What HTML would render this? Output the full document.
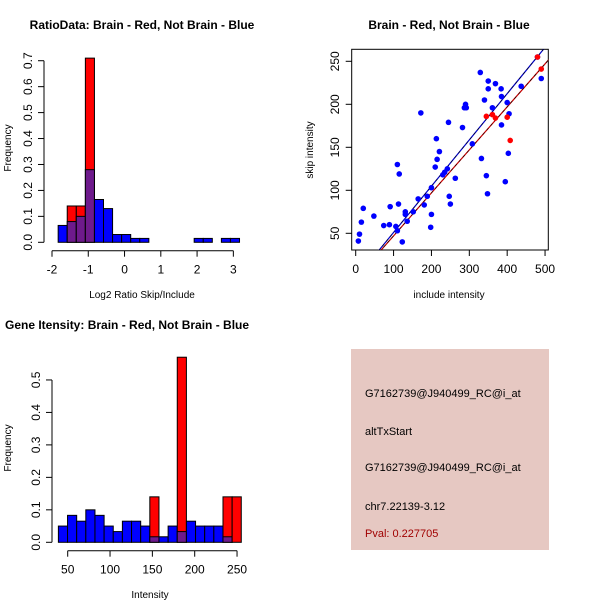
<!DOCTYPE html>
<html><head><meta charset="utf-8"><style>
html,body{margin:0;padding:0;background:#fff;}
svg{display:block;font-family:"Liberation Sans",sans-serif;}
</style></head><body>
<svg id="chart" width="600" height="600" viewBox="0 0 600 600" xmlns="http://www.w3.org/2000/svg">
<rect width="600" height="600" fill="#fff"/>
<g id="p1"></g>
<g id="p2"></g>
<g id="p3"></g>
<g>
<rect x="351" y="349" width="198" height="201" fill="#e6c8c2"/>
<text x="365" y="397" font-size="11">G7162739@J940499_RC@i_at</text>
<text x="365" y="435" font-size="11">altTxStart</text>
<text x="365" y="471" font-size="11">G7162739@J940499_RC@i_at</text>
<text x="365" y="510" font-size="11">chr7.22139-3.12</text>
<text x="365" y="537" font-size="11" fill="#a00000">Pval: 0.227705</text>
</g>
</svg>
<script>
// Panel 1 data
const ratioBinStart = -1.83;
const ratioBinWidth = 0.25;
const ratioBlue = [0.065,0.08,0.1,0.28,0.165,0.13,0.03,0.03,0.015,0.015,0,0,0,0,0,0.015,0.015,0,0.015,0.015];
const ratioRed  = [0,0.14,0.14,0.71,0,0,0,0,0,0,0,0,0,0,0,0,0,0,0,0];
const ratioXTicks = [-2,-1,0,1,2,3];
const ratioYTicks = [0,0.1,0.2,0.3,0.4,0.5,0.6,0.7];
// Panel 2 data
const blueX = [7,10,15,20,48,74,89,91,106,110,113,110,115,123,131,131,136,152,165,172,181,189,198,200,200,210,213,215,221,230,235,242,245,247,250,263,282,290,287,292,308,329,332,340,345,348,350,350,361,369,384,385,385,395,400,403,405,437,490,480];
const blueY = [41,49,63,79,70,59,60,81,58,53,84,130,119,40,75,72,64,75,90,190,83,93,57,72,103,127,160,136,145,118,121,125,179,93,84,114,173,200,196,196,154,237,137,205,117,96,227,218,196,224,218,209,176,110,202,143,189,221,230,255];
const redX = [345,361,369,400,408,480,490];
const redY = [186,188,184,185,158,255,241];
const blueFit = [-2.8,0.538];
const redFit = [-3,0.5];
const scatXTicks = [0,100,200,300,400,500];
const scatYTicks = [50,100,150,200,250];
// Panel 3 data
const intBinStart = 39;
const intBinWidth = 10.8;
const intBlue = [0.05,0.083,0.065,0.1,0.083,0.05,0.033,0.065,0.065,0.05,0.017,0.017,0.05,0.033,0.065,0.05,0.05,0.05,0.017,0];
const intRed  = [0,0,0,0,0,0,0,0,0,0,0.14,0,0,0.57,0,0,0,0,0.14,0.14];
const intXTicks = [50,100,150,200,250];
const intYTicks = [0,0.1,0.2,0.3,0.4,0.5];

const NS="http://www.w3.org/2000/svg";
function mk(parent,tag,attrs,txt){const e=document.createElementNS(NS,tag);for(const k in attrs)e.setAttribute(k,attrs[k]);if(txt!==undefined)e.textContent=txt;parent.appendChild(e);return e;}

function hist(g,o){
  const sx=v=>o.x0px+(v-o.x0v)*o.xs, sy=v=>o.y0px-v*o.ys;
  for(let i=0;i<o.blue.length;i++){
    const a=o.start+i*o.w,b=a+o.w,hb=o.blue[i],hr=o.red[i];
    if(hr>0){const r=mk(g,'rect',{x:sx(a),y:sy(hr),width:sx(b)-sx(a),height:sy(0)-sy(hr),fill:'#ff0000',stroke:'#000','stroke-width':1});
      
      }
    if(hb>0){const fill=hr>0?'#6e1a8c':'#0000ff';const r=mk(g,'rect',{x:sx(a),y:sy(hb),width:sx(b)-sx(a),height:sy(0)-sy(hb),fill:fill,stroke:'#000','stroke-width':1});
      
      }
  }
  const ax=o.axisY;
  mk(g,'line',{x1:sx(o.xt[0]),x2:sx(o.xt[o.xt.length-1]),y1:ax,y2:ax,stroke:'#000'});
  o.xt.forEach(t=>{mk(g,'line',{x1:sx(t),x2:sx(t),y1:ax,y2:ax+6,stroke:'#000'});
    const l=mk(g,'text',{x:sx(t),y:ax+23,'font-size':12,'text-anchor':'middle'},String(t));
    
    });
  const yx=o.axisX;
  mk(g,'line',{x1:yx,x2:yx,y1:sy(o.yt[0]),y2:sy(o.yt[o.yt.length-1]),stroke:'#000'});
  o.yt.forEach(t=>{mk(g,'line',{x1:yx-6,x2:yx,y1:sy(t),y2:sy(t),stroke:'#000'});
    const l=mk(g,'text',{x:yx-12,y:sy(t),'font-size':12,'text-anchor':'middle',transform:`rotate(-90 ${yx-12} ${sy(t)})`},t.toFixed(1));
    
    });
}

// Panel 1
const g1=document.getElementById('p1');
hist(g1,{x0px:52,x0v:-2,xs:36.27,y0px:242.3,ys:259.4,start:ratioBinStart,w:ratioBinWidth,blue:ratioBlue,red:ratioRed,xt:ratioXTicks,yt:ratioYTicks,axisY:250.7,axisX:44});
let t=mk(g1,'text',{x:142,y:29,'font-size':12,'font-weight':'bold','text-anchor':'middle'},'RatioData: Brain - Red, Not Brain - Blue');

t=mk(g1,'text',{x:142,y:298,'font-size':10,'text-anchor':'middle'},'Log2 Ratio Skip/Include');

t=mk(g1,'text',{x:11,y:148,'font-size':10,'text-anchor':'middle',transform:'rotate(-90 11 148)'},'Frequency');


// Panel 2
const g2=document.getElementById('p2');
const px=v=>355.7+v*0.3787, py=v=>233.3-(v-50)*0.86;
mk(g2,'rect',{x:351.7,y:49.3,width:196.6,height:200.7,fill:'none',stroke:'#000'});
const cp=mk(g2,'clipPath',{id:'cp'});mk(cp,'rect',{x:351.7,y:49.3,width:196.6,height:200.7});
const gl=mk(g2,'g',{'clip-path':'url(#cp)'});
[[blueFit,'#0000cc'],[redFit,'#cc0000']].forEach(([f,c])=>{
  const ln=mk(gl,'line',{x1:px(0),y1:py(f[0]),x2:px(520),y2:py(f[0]+f[1]*520),stroke:c,'stroke-width':1.2});
  
  mk(gl,'line',{x1:px(0),y1:py(f[0]),x2:px(520),y2:py(f[0]+f[1]*520),stroke:'#000','stroke-width':0.6,'stroke-dasharray':'3,3'});
});
blueX.forEach((x,i)=>{const c=mk(gl,'circle',{cx:px(x),cy:py(blueY[i]),r:2.8,fill:'#0000ff'});
  });
redX.forEach((x,i)=>{const c=mk(gl,'circle',{cx:px(x),cy:py(redY[i]),r:2.8,fill:'#ff0000'});
  });
scatXTicks.forEach(v=>{mk(g2,'line',{x1:px(v),x2:px(v),y1:250,y2:256,stroke:'#000'});
  const l=mk(g2,'text',{x:px(v),y:273,'font-size':12,'text-anchor':'middle'},String(v));
  });
scatYTicks.forEach(v=>{mk(g2,'line',{x1:345.7,x2:351.7,y1:py(v),y2:py(v),stroke:'#000'});
  const l=mk(g2,'text',{x:339,y:py(v),'font-size':12,'text-anchor':'middle',transform:`rotate(-90 339 ${py(v)})`},String(v));
  });
t=mk(g2,'text',{x:449,y:29,'font-size':12,'font-weight':'bold','text-anchor':'middle'},'Brain - Red, Not Brain - Blue');

t=mk(g2,'text',{x:449,y:298,'font-size':10,'text-anchor':'middle'},'include intensity');

t=mk(g2,'text',{x:313,y:150,'font-size':10,'text-anchor':'middle',transform:'rotate(-90 313 150)'},'skip intensity');


// Panel 3
const g3=document.getElementById('p3');
hist(g3,{x0px:67.7,x0v:50,xs:0.8467,y0px:542.3,ys:324.7,start:intBinStart,w:intBinWidth,blue:intBlue,red:intRed,xt:intXTicks,yt:intYTicks,axisY:550.7,axisX:52});
t=mk(g3,'text',{x:5,y:329,'font-size':12,'font-weight':'bold'},'Gene Itensity: Brain - Red, Not Brain - Blue');

t=mk(g3,'text',{x:150,y:598,'font-size':10,'text-anchor':'middle'},'Intensity');

t=mk(g3,'text',{x:11,y:448,'font-size':10,'text-anchor':'middle',transform:'rotate(-90 11 448)'},'Frequency');

</script>
</body></html>
